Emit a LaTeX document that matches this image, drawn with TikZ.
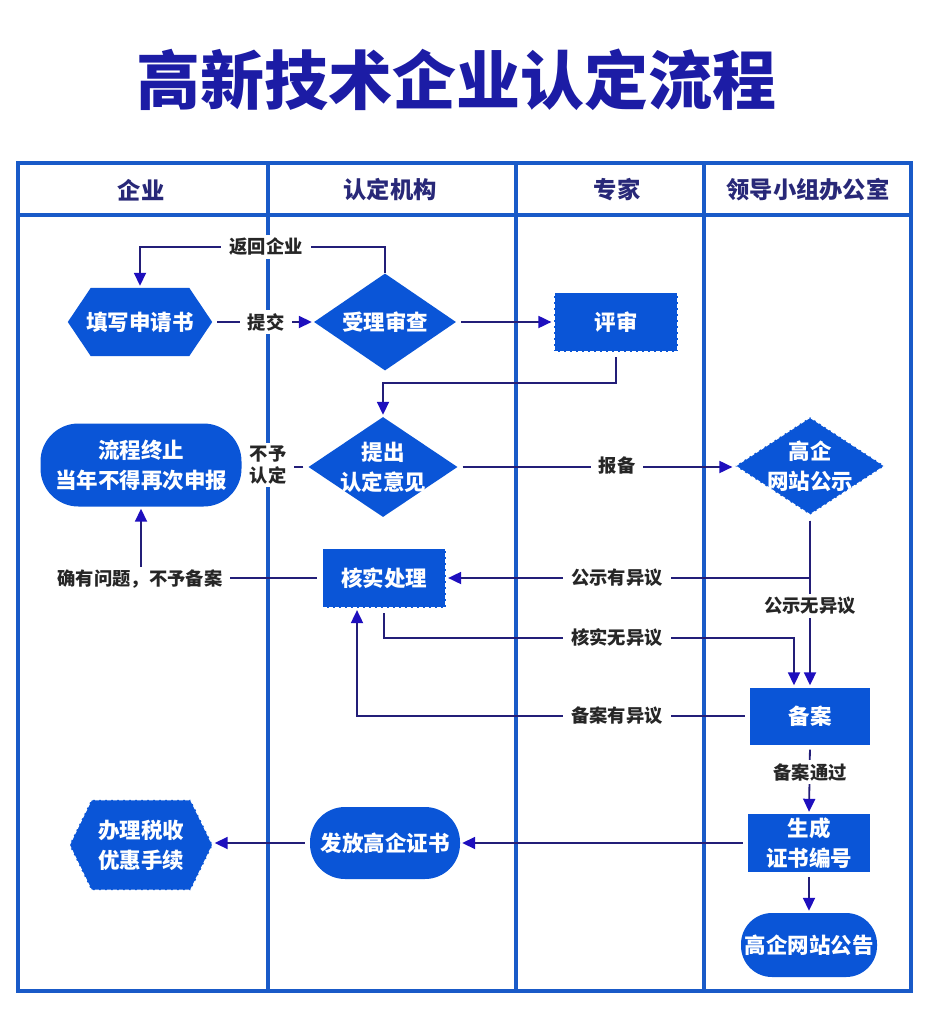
\documentclass[tikz,border=0pt]{standalone}
\usepackage{fontspec}
\setmainfont{Noto Sans CJK SC}
\usetikzlibrary{arrows.meta,shapes.geometric,calc}
\pgfdeclarelayer{bg}
\pgfsetlayers{bg,main}
\definecolor{titleblue}{RGB}{28,28,165}
\definecolor{laneblue}{RGB}{25,90,200}
\definecolor{nodeblue}{RGB}{10,85,215}
\definecolor{navy}{RGB}{35,30,120}
\definecolor{tipblue}{RGB}{30,15,190}
\definecolor{headtext}{RGB}{40,40,120}
\tikzset{
  lane/.style={draw=laneblue, line width=4pt},
  conn/.style={draw=navy, line width=1.8pt, shorten <=5pt, shorten >=2pt,
    -{Triangle[length=13pt,width=12pt,color=tipblue]}},
  box/.style={fill=nodeblue, text=white, font=\bfseries\fontsize{21.5}{30}\selectfont,
    align=center, inner sep=0pt},
  hexbox/.style={text=white, font=\bfseries\fontsize{21.5}{30}\selectfont,
    align=center, inner sep=0pt, rectangle},
  dashedge/.style={draw=white, dash pattern=on 4pt off 2pt, line width=1.2pt},
  dia/.style={box, diamond, aspect=1.5, inner sep=-8pt},
  lbl/.style={fill=white, text=black!85, font=\bfseries\fontsize{18.3}{22}\selectfont,
    inner xsep=8pt, inner ysep=3pt, align=center},
  headlbl/.style={text=headtext, font=\bfseries\fontsize{23.3}{27}\selectfont}
}
\begin{document}
\begin{tikzpicture}[x=1pt,y=-1pt]
\useasboundingbox (0,0) rectangle (937,1024);
\begin{pgfonlayer}{bg}
\fill[white] (0,0) rectangle (937,1024);
\end{pgfonlayer}

% title
\node[text=titleblue, font=\bfseries\fontsize{64}{72}\selectfont] (title) at (456,80) {高新技术企业认定流程};

% swimlane table
\draw[lane] (18,163) rectangle (911,991);
\draw[lane] (18,215) -- (911,215);
\foreach \xx in {268,516,704} \draw[lane] (\xx,163) -- (\xx,991);
\node[headlbl] (h1) at (141,190) {企业};
\node[headlbl] (h2) at (390,190) {认定机构};
\node[headlbl] (h3) at (617,190) {专家};
\node[headlbl] (h4) at (808,190) {领导小组办公室};

% nodes
\node[hexbox, minimum width=144pt, minimum height=68pt] (n1) at (140,322) {填写申请书};
\node[dia, minimum width=142pt, minimum height=97pt] (n2) at (385,322) {受理审查};
\node[box, dashedge, minimum width=124pt, minimum height=59pt] (n3) at (616,322) {评审};
\node[box, rounded corners=38pt, minimum width=201pt, minimum height=83pt] (n4) at (141,465) {流程终止\\当年不得再次申报};
\node[dia, minimum width=149pt, minimum height=100pt] (n5) at (383,467) {提出\\认定意见};
\node[dia, dashedge, minimum width=150pt, minimum height=98pt] (n6) at (810,466) {高企\\网站公示};
\node[box, dashedge, minimum width=123pt, minimum height=59pt] (n7) at (384,578) {核实处理};
\node[box, minimum width=120pt, minimum height=57pt] (n8) at (810,716) {备案};
\node[box, minimum width=122pt, minimum height=58pt] (n9) at (809,843) {生成\\证书编号};
\node[box, rounded corners=31pt, minimum width=136pt, minimum height=64pt] (n10) at (809,945) {高企网站公告};
\node[hexbox, minimum width=143pt, minimum height=90pt] (n11) at (141,845) {办理税收\\优惠手续};
\node[box, rounded corners=35pt, minimum width=150pt, minimum height=72pt] (n12) at (385,843) {发放高企证书};

% hexagon fills (behind the white text)
\begin{pgfonlayer}{bg}
\fill[nodeblue] (n1.west) -- ([xshift=23pt]n1.north west) -- ([xshift=-23pt]n1.north east)
  -- (n1.east) -- ([xshift=-23pt]n1.south east) -- ([xshift=23pt]n1.south west) -- cycle;
\fill[nodeblue] (n11.west) -- ([xshift=22pt]n11.north west) -- ([xshift=-22pt]n11.north east)
  -- (n11.east) -- ([xshift=-22pt]n11.south east) -- ([xshift=22pt]n11.south west) -- cycle;
\end{pgfonlayer}
\draw[dashedge] (n11.west) -- ([xshift=22pt]n11.north west) -- ([xshift=-22pt]n11.north east)
  -- (n11.east) -- ([xshift=-22pt]n11.south east) -- ([xshift=22pt]n11.south west) -- cycle;

% junction coordinates
\coordinate (r1) at (0,247);
\coordinate (j1) at (383,383);
\coordinate (j2) at (794,638);
\coordinate (j3) at (357,716);

% connectors
\draw[conn] (n1.east) -- (n2.west);
\draw[conn, shorten <=0pt] (n2.north) -- (n2.north |- r1) -- (n1.north |- r1) -- (n1.north);
\draw[conn] (n2.east) -- (n3.west);
\draw[conn] (n3.south) |- (j1) -- (n5.north);
\draw[conn] (n5.west) -- (n5.west -| n4.east);
\draw[conn] (n5.east) -- (n5.east -| n6.west);
\draw[conn] (n6.south) |- (n7.east);
\draw[conn] (n6.south) -- (n8.north);
\draw[conn] (n7.south) |- (j2) -- (j2 |- n8.north);
\draw[conn] (n8.west) -- (j3) -- (j3 |- n7.south);
\draw[conn] (n8.south) -- (n9.north);
\draw[conn] (n9.west) -- (n12.east);
\draw[conn] (n12.west) -- (n12.west -| n11.east);
\draw[conn] (n9.south) -- (n10.north);
\draw[conn] (n7.west) -| (n4.south);

% labels
\node[lbl] (l1) at (266,322) {提交};
\node[lbl] (l2) at (266,247) {返回企业};
\node[lbl] (l3) at (268,465) {不予\\认定};
\node[lbl] (l4) at (617,466) {报备};
\node[lbl] (l5) at (617,578) {公示有异议};
\node[lbl] (l6) at (810,606) {公示无异议};
\node[lbl] (l7) at (617,638) {核实无异议};
\node[lbl] (l8) at (617,716) {备案有异议};
\node[lbl] (l9) at (810,772) {备案通过};
\node[lbl] (l10) at (140,579) {确有问题，不予备案};
\end{tikzpicture}
\end{document}
